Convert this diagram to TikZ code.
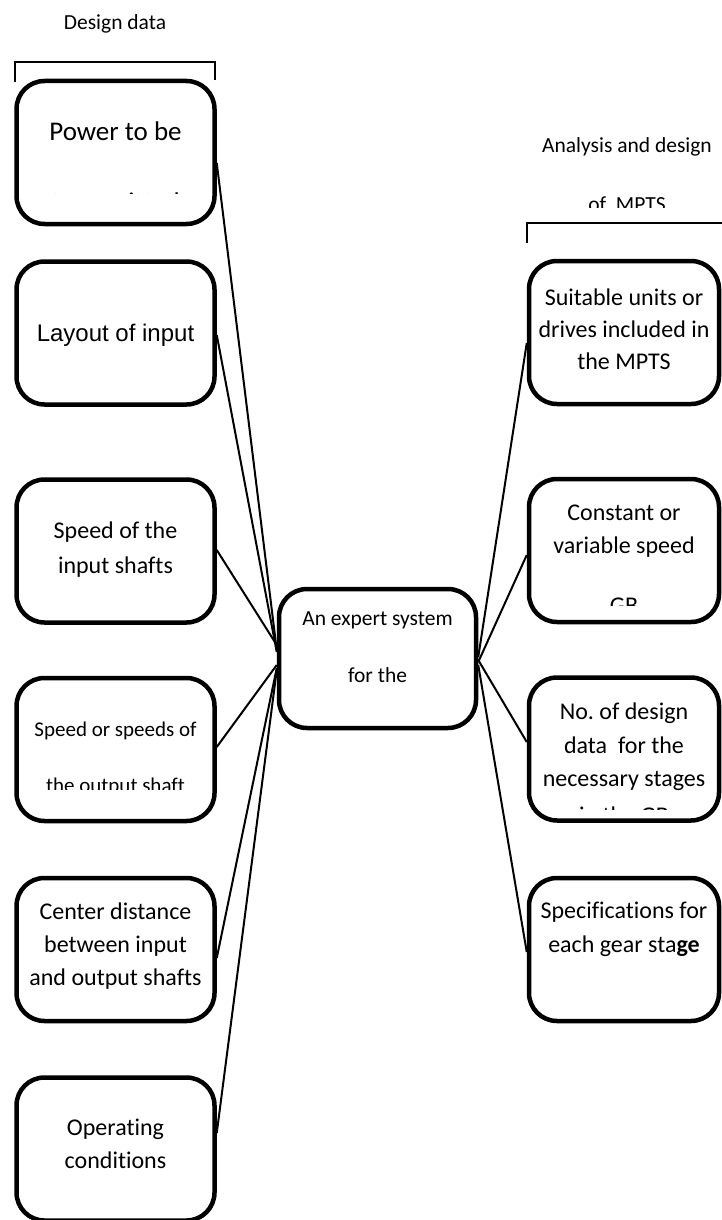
\documentclass[tikz,border=0pt]{standalone}
\usepackage{fontspec}
\setmainfont{Carlito}[Ligatures=NoCommon]
\newfontfamily\arialfont{Liberation Sans}
\frenchspacing

\tikzset{
  design box/.style={draw, line width=4.5pt, rounded corners=28pt, minimum width=198pt, minimum height=143pt, inner sep=0pt},
  result box/.style={design box, minimum width=190pt},
  box text/.style={align=center, inner sep=0pt, font=\fontsize{24}{33}\selectfont},
  head text/.style={inner sep=0pt, anchor=base, font=\fontsize{21.5}{25}\selectfont},
  link/.style={line width=2pt},
  brace line/.style={line width=1.3pt}
}

\begin{document}
\begin{tikzpicture}[x=1pt,y=-1pt]
\useasboundingbox (0,0) rectangle (721,1220);

% headings and brackets
\node[head text] (dd) at (115,30) {Design data};
\draw[brace line] (15,82) -- (15,62) -- (215,62) -- (215,80);
\node[head text] (ad) at (627,153) {Analysis and design};
\begin{scope}
  \clip (520,180) rectangle (721,207);
  \node[head text] (ad2) at (627,211.5) {of~~MPTS};
\end{scope}
\draw[brace line] (527,243) -- (527,223) -- (725,223);

% design data (left column)
\node[design box] (l1) at (115.5,152.5) {};
\node[design box] (l2) at (115.5,333) {};
\node[design box] (l3) at (115.5,551) {};
\node[design box] (l4) at (115.5,749.5) {};
\node[design box] (l5) at (115.5,949.5) {};
\node[design box] (l6) at (115.5,1149) {};

\node[box text, anchor=base, font=\fontsize{27}{33}\selectfont] (l1a) at (115.5,140) {Power to be};
\begin{scope}
  \clip (20,150) rectangle (212,193);
  \node[box text, anchor=base, font=\fontsize{27}{33}\selectfont] (l1b) at (115.5,211.5) {transmitted};
\end{scope}
\node[box text, font=\arialfont\fontsize{24}{33}\selectfont] (l2a) at (115.5,335) {Layout of input};
\node[box text, font=\fontsize{24}{35}\selectfont] (l3a) at (115.5,549.5) {Speed of the\\input shafts};
\node[box text, anchor=base, font=\fontsize{21}{25}\selectfont] (l4a) at (115.5,736) {Speed or speeds of};
\begin{scope}
  \clip (20,760) rectangle (212,789);
  \node[box text, anchor=base, font=\fontsize{21}{25}\selectfont] (l4b) at (115.5,792) {the output shaft};
\end{scope}
\node[box text] (l5a) at (115.5,946.5) {Center distance\\between input\\and output shafts};
\node[box text] (l6a) at (115.5,1143.5) {Operating\\conditions};

% expert system
\node[design box, minimum width=197pt, minimum height=139pt] (es) at (377.5,658.5) {};
\node[head text] (es1) at (377.5,625) {An expert system};
\node[head text] (es2) at (377.5,682) {for the};

% results (right column)
\node[result box] (r1) at (624,332.5) {};
\node[result box] (r2) at (624,550.5) {};
\node[result box] (r3) at (624,749) {};
\node[result box] (r4) at (624,949.5) {};

\node[box text, font=\fontsize{24}{32}\selectfont] (r1a) at (624,329) {Suitable units or\\drives included in\\the MPTS};
\node[box text, anchor=base] (r2a) at (624,520) {Constant or};
\node[box text, anchor=base] (r2b) at (624,553) {variable speed};
\begin{scope}
  \clip (535,580) rectangle (715,605);
  \node[box text, anchor=base] (r2c) at (624,613.5) {GB};
\end{scope}
\node[box text, anchor=base] (r3a) at (624,719) {No. of design};
\node[box text, anchor=base] (r3b) at (624,753) {data~ for the};
\node[box text, anchor=base] (r3c) at (624,786) {necessary stages};
\begin{scope}
  \clip (535,795) rectangle (715,809);
  \node[box text, anchor=base] (r3d) at (624,823) {in the GB};
\end{scope}
\node[box text, anchor=base] (r4a) at (624,918) {Specifications for};
\node[box text, anchor=base] (r4b) at (624,952) {each gear sta\textbf{ge}};

% links
\draw[link] ([yshift=-10.5pt]l1.east) -- ([yshift=8.5pt]es.west);
\draw[link] ([yshift=-2pt]l2.east) -- ([yshift=6.5pt]es.west);
\draw[link] ([yshift=1pt]l3.east) -- ([yshift=13.5pt]es.west);
\draw[link] ([yshift=2.5pt]l4.east) -- ([yshift=-6.5pt]es.west);
\draw[link] ([yshift=-8.5pt]l5.east) -- ([yshift=-9.5pt]es.west);
\draw[link] ([yshift=16pt]l6.east) -- ([yshift=-11.5pt]es.west);
\draw[link] ([yshift=1.5pt]es.east) -- ([yshift=-10.5pt]r1.west);
\draw[link] ([yshift=-3.5pt]es.east) -- ([yshift=-4.5pt]r2.west);
\draw[link] ([yshift=-1.5pt]es.east) -- ([yshift=7pt]r3.west);
\draw[link] ([yshift=-6.5pt]es.east) -- ([yshift=-2.5pt]r4.west);
\end{tikzpicture}
\end{document}
